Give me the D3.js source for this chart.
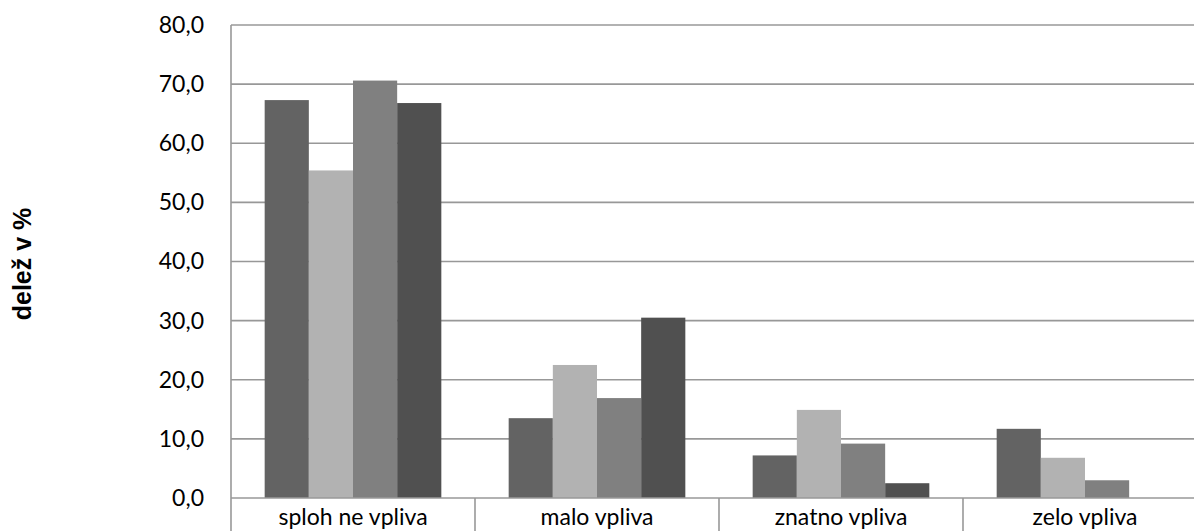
<!DOCTYPE html>
<html>
<head>
<meta charset="utf-8">
<script src="https://d3js.org/d3.v7.min.js"></script>
<style>
html,body{margin:0;padding:0;background:#fff;}
svg{display:block;}
</style>
</head>
<body>
<svg id="chart" width="1194" height="531"></svg>
<script>
const categories = ["sploh ne vpliva", "malo vpliva", "znatno vpliva", "zelo vpliva"];
const seriesNames = ["s1", "s2", "s3", "s4"];
const s1 = [67.3, 13.5, 7.2, 11.7];
const s2 = [55.4, 22.5, 14.9, 6.8];
const s3 = [70.6, 16.9, 9.2, 3.0];
const s4 = [66.8, 30.5, 2.5, 0];
const seriesValues = [s1, s2, s3, s4];
const seriesColors = ["#636363", "#b2b2b2", "#808080", "#505050"];
const yTicks = [0, 10, 20, 30, 40, 50, 60, 70, 80];
const yTitle = "delež v %";

const svg = d3.select("#chart");
const mLeft = 231, mRight = 1207, mTop = 25, mBottom = 498;

const x = d3.scaleBand().domain(categories).range([mLeft, mRight]).padding(0);
const xi = d3.scaleBand().domain(seriesNames)
  .range([x.bandwidth() * 0.138, x.bandwidth() * 0.862]).padding(0);
const y = d3.scaleLinear().domain([0, 80]).range([mBottom, mTop]);

// gridlines
svg.append("g")
  .selectAll("line").data(yTicks.filter(d => d > 0)).join("line")
  .attr("x1", mLeft).attr("x2", 1194)
  .attr("y1", d => y(d)).attr("y2", d => y(d))
  .attr("stroke", "#989898").attr("stroke-width", 1.6);

// bars
const groups = svg.append("g").selectAll("g").data(categories).join("g")
  .attr("transform", d => `translate(${x(d)},0)`);
groups.selectAll("rect")
  .data((c, ci) => seriesNames.map((s, si) => ({s, si, v: seriesValues[si][ci]})))
  .join("rect")
  .attr("x", d => xi(d.s))
  .attr("width", xi.bandwidth())
  .attr("y", d => y(d.v))
  .attr("height", d => y(0) - y(d.v))
  .attr("fill", d => seriesColors[d.si]);

// y axis
const yAxis = d3.axisLeft(y).tickValues(yTicks).tickSize(0).tickPadding(27)
  .tickFormat(d => d3.format(".1f")(d).replace(".", ","));
const ya = svg.append("g").attr("transform", `translate(${mLeft},0)`).call(yAxis);
ya.select(".domain").remove();
ya.selectAll("text").attr("font-family", "Lato, 'Open Sans', sans-serif")
  .attr("font-size", 23).attr("fill", "#000");

// axis lines
svg.append("line").attr("x1", mLeft).attr("x2", mLeft).attr("y1", mTop).attr("y2", 531)
  .attr("stroke", "#989898").attr("stroke-width", 1.6);
svg.append("line").attr("x1", mLeft).attr("x2", 1194).attr("y1", mBottom).attr("y2", mBottom)
  .attr("stroke", "#989898").attr("stroke-width", 1.6);

// x axis category separators and labels
const xa = d3.axisBottom(x).tickSize(0).tickPadding(0);
const xg = svg.append("g").attr("transform", `translate(0,${mBottom})`).call(xa);
xg.select(".domain").remove();
xg.selectAll("text").attr("font-family", "Lato, 'Open Sans', sans-serif")
  .attr("font-size", 23).attr("fill", "#000").attr("dy", null).attr("y", 27);
svg.append("g").selectAll("line").data(categories.slice(1)).join("line")
  .attr("x1", d => x(d)).attr("x2", d => x(d))
  .attr("y1", mBottom).attr("y2", 531)
  .attr("stroke", "#989898").attr("stroke-width", 1.6);

// y title
svg.append("text")
  .attr("transform", "translate(31,264) rotate(-90)")
  .attr("text-anchor", "middle")
  .attr("font-family", "'Liberation Sans', Arial, sans-serif")
  .attr("font-weight", "bold").attr("font-size", 25)
  .text(yTitle);
</script>
</body>
</html>
